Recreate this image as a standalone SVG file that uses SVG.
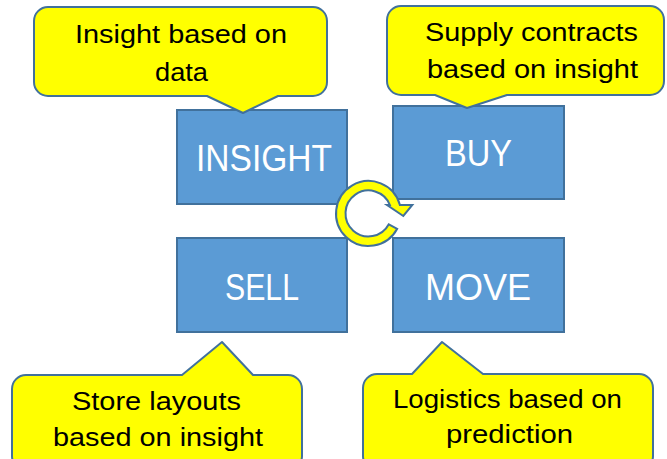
<svg xmlns="http://www.w3.org/2000/svg" width="667" height="459" viewBox="0 0 667 459">
  <style>
    .box { fill: #5B9BD5; stroke: #41719C; stroke-width: 2; }
    .box-label { font-family: "Liberation Sans", Arial, sans-serif; font-size: 36px; fill: #FFFFFF; text-anchor: middle; }
    .callout { fill: #FFFF00; stroke: #41719C; stroke-width: 2; stroke-linejoin: round; }
    .callout-text { font-family: "Liberation Sans", Arial, sans-serif; font-size: 26px; fill: #000000; text-anchor: middle; }
    .cycle { fill: #FFFF00; stroke: #41719C; stroke-width: 2; stroke-linejoin: miter; }
  </style>

  <!-- Process boxes -->
  <g id="node-insight">
    <rect class="box" x="177" y="110" width="170" height="94"/>
    <text class="box-label" x="264" y="171" textLength="136" lengthAdjust="spacingAndGlyphs">INSIGHT</text>
  </g>
  <g id="node-buy">
    <rect class="box" x="393" y="106" width="171" height="93"/>
    <text class="box-label" x="478.5" y="166" textLength="67" lengthAdjust="spacingAndGlyphs">BUY</text>
  </g>
  <g id="node-sell">
    <rect class="box" x="177" y="238" width="170" height="94"/>
    <text class="box-label" x="262" y="300" textLength="74" lengthAdjust="spacingAndGlyphs">SELL</text>
  </g>
  <g id="node-move">
    <rect class="box" x="393" y="238" width="171" height="94"/>
    <text class="box-label" x="478" y="300" textLength="106" lengthAdjust="spacingAndGlyphs">MOVE</text>
  </g>

  <!-- Clockwise cycle arrow in the middle -->
  <g id="connectors">
    <path class="cycle" d="M397.2,228.8 A32.5,32.5 0 1 1 399.9,205 L412.3,205 L403.3,216 L387,205 L389.9,205 A23,23 0 1 0 388.8,224.3 Z"/>
  </g>

  <!-- Callouts -->
  <g id="callout-insight">
    <path class="callout" d="M48,7 H313 A14,14 0 0 1 327,21 V82 A14,14 0 0 1 313,96 H278 L243,113 L207,96 H48 A14,14 0 0 1 34,82 V21 A14,14 0 0 1 48,7 Z"/>
    <text class="callout-text" x="181" y="43" textLength="212" lengthAdjust="spacingAndGlyphs">Insight based on</text>
    <text class="callout-text" x="181.5" y="81" textLength="53" lengthAdjust="spacingAndGlyphs">data</text>
  </g>
  <g id="callout-buy">
    <path class="callout" d="M401,6 H650 A14,14 0 0 1 664,20 V81 A14,14 0 0 1 650,95 H507 L467,108 L435,95 H401 A14,14 0 0 1 387,81 V20 A14,14 0 0 1 401,6 Z"/>
    <text class="callout-text" x="531.5" y="41" textLength="213" lengthAdjust="spacingAndGlyphs">Supply contracts</text>
    <text class="callout-text" x="532.5" y="78" textLength="211" lengthAdjust="spacingAndGlyphs">based on insight</text>
  </g>
  <g id="callout-sell">
    <path class="callout" d="M26,375 H182 L222,342 L253,375 H288 A14,14 0 0 1 302,389 V456 A14,14 0 0 1 288,470 H26 A14,14 0 0 1 12,456 V389 A14,14 0 0 1 26,375 Z"/>
    <text class="callout-text" x="156.5" y="410" textLength="169" lengthAdjust="spacingAndGlyphs">Store layouts</text>
    <text class="callout-text" x="158" y="446" textLength="210" lengthAdjust="spacingAndGlyphs">based on insight</text>
  </g>
  <g id="callout-move">
    <path class="callout" d="M377,374 H412 L442,342 L483,374 H639 A14,14 0 0 1 653,388 V456 A14,14 0 0 1 639,470 H377 A14,14 0 0 1 363,456 V388 A14,14 0 0 1 377,374 Z"/>
    <text class="callout-text" x="507.5" y="408" textLength="229" lengthAdjust="spacingAndGlyphs">Logistics based on</text>
    <text class="callout-text" x="509.5" y="443" textLength="127" lengthAdjust="spacingAndGlyphs">prediction</text>
  </g>
</svg>
